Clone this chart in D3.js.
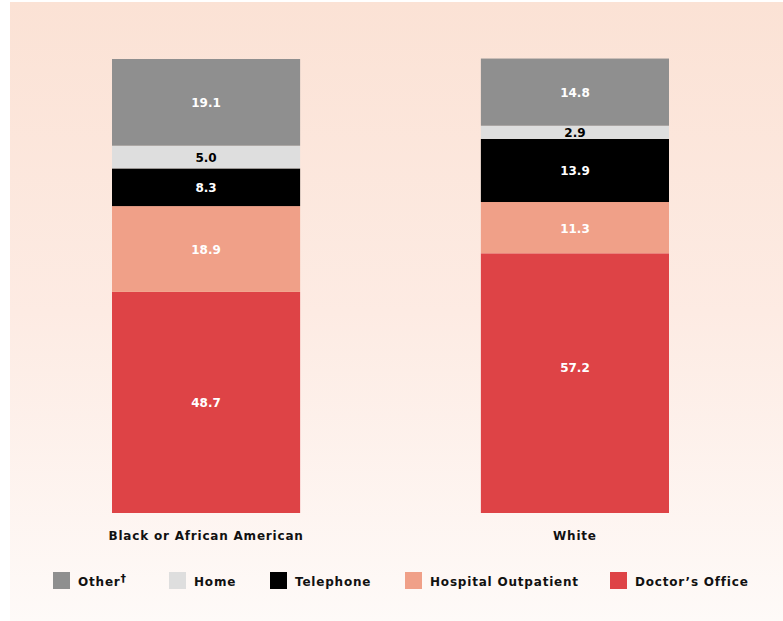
<!DOCTYPE html>
<html>
<head>
<meta charset="utf-8">
<script src="https://cdn.jsdelivr.net/npm/d3@7"></script>
<style>
  body { margin: 0; background: #fff; }
  text { font-family: "DejaVu Sans", "Liberation Sans", Arial, sans-serif; font-weight: bold; }
</style>
</head>
<body>
<div id="chart"></div>
<script>
var groups = ["Black or African American", "White"];
var series = ["Doctor's Office", "Hospital Outpatient", "Telephone", "Home", "Other"];
var legendNames = ["Other", "Home", "Telephone", "Hospital Outpatient", "Doctor\u2019s Office"];
var doctorsOffice = [48.7, 57.2];
var hospitalOutpatient = [18.9, 11.3];
var telephone = [8.3, 13.9];
var home = [5.0, 2.9];
var other = [19.1, 14.8];

var colors = {
  "Doctor's Office": "#de4346",
  "Hospital Outpatient": "#f0a088",
  "Telephone": "#000000",
  "Home": "#dedede",
  "Other": "#8f8f8f"
};
var labelColors = {
  "Doctor's Office": "#fff",
  "Hospital Outpatient": "#fff",
  "Telephone": "#fff",
  "Home": "#000",
  "Other": "#fff"
};

var width = 783, height = 621;

var svg = d3.select("#chart")
  .append("svg")
  .attr("width", width)
  .attr("height", height)

var defs = svg.append("defs")
var grad = defs.append("linearGradient")
  .attr("id", "bg")
  .attr("x1", 0).attr("y1", 0)
  .attr("x2", 0).attr("y2", 1)
grad.append("stop").attr("offset", "0%").attr("stop-color", "#fbe2d5")
grad.append("stop").attr("offset", "50%").attr("stop-color", "#fdebe3")
grad.append("stop").attr("offset", "100%").attr("stop-color", "#fefaf8")

svg.append("rect")
  .attr("x", 10)
  .attr("y", 2)
  .attr("width", width - 10)
  .attr("height", height - 2)
  .attr("fill", "url(#bg)")

// build table for the stack
var table = groups.map(function(g, i) {
  return {
    group: g,
    "Doctor's Office": doctorsOffice[i],
    "Hospital Outpatient": hospitalOutpatient[i],
    "Telephone": telephone[i],
    "Home": home[i],
    "Other": other[i]
  }
})

var stacked = d3.stack().keys(series)(table)

var xScale = d3.scaleBand()
  .domain(groups)
  .range([112, 669])
  .paddingInner(0.49)
  .paddingOuter(0)

var yScale = d3.scaleLinear()
  .domain([0, 100])
  .range([513, 59])

var layers = svg.selectAll(".layer")
  .data(stacked)
  .enter()
  .append("g")
  .attr("class", "layer")

layers.selectAll("rect")
  .data(function(d) { return d.map(function(p) { p.key = d.key; return p; }) })
  .enter()
  .append("rect")
  .attr("x", function(d) { return xScale(d.data.group) })
  .attr("width", xScale.bandwidth())
  .attr("y", function(d) { return yScale(d[1]) })
  .attr("height", function(d) { return yScale(d[0]) - yScale(d[1]) })
  .attr("fill", function(d) { return colors[d.key] })

layers.selectAll("text")
  .data(function(d) { return d.map(function(p) { p.key = d.key; return p; }) })
  .enter()
  .append("text")
  .text(function(d) { return (d[1] - d[0]).toFixed(1) })
  .attr("x", function(d) { return xScale(d.data.group) + xScale.bandwidth() / 2 })
  .attr("y", function(d) {
    var mid = (yScale(d[0]) + yScale(d[1])) / 2 + 5;
    // the white doctor's office label sits a bit higher in the original
    if (d.key == "Doctor's Office" && d.data.group == "White") mid -= 16;
    return mid;
  })
  .attr("text-anchor", "middle")
  .attr("font-size", 12)
  .attr("fill", function(d) { return labelColors[d.key] })

// category labels
svg.selectAll(".cat")
  .data(groups)
  .enter()
  .append("text")
  .attr("class", "cat")
  .text(function(d) { return d })
  .attr("x", function(d) { return xScale(d) + xScale.bandwidth() / 2 })
  .attr("y", 540)
  .attr("text-anchor", "middle")
  .attr("font-size", 12)
  .attr("letter-spacing", 0.8)
  .attr("fill", "#111")

// legend
var legendKeys = ["Other", "Home", "Telephone", "Hospital Outpatient", "Doctor's Office"];
var legendX = [53, 169, 270, 405, 610];

var legend = svg.selectAll(".legend")
  .data(legendKeys)
  .enter()
  .append("g")
  .attr("class", "legend")
  .attr("transform", function(d, i) { return "translate(" + legendX[i] + ",572)" })

legend.append("rect")
  .attr("width", 17)
  .attr("height", 17)
  .attr("fill", function(d) { return colors[d] })

var legendText = legend.append("text")
  .attr("x", 25)
  .attr("y", 14)
  .attr("font-size", 12)
  .attr("letter-spacing", 0.8)
  .attr("fill", "#111")
  .text(function(d, i) { return legendNames[i] })

legendText.filter(function(d) { return d == "Other" })
  .append("tspan")
  .attr("dy", -4)
  .attr("font-size", 11)
  .text("\u2020")
</script>
</body>
</html>
